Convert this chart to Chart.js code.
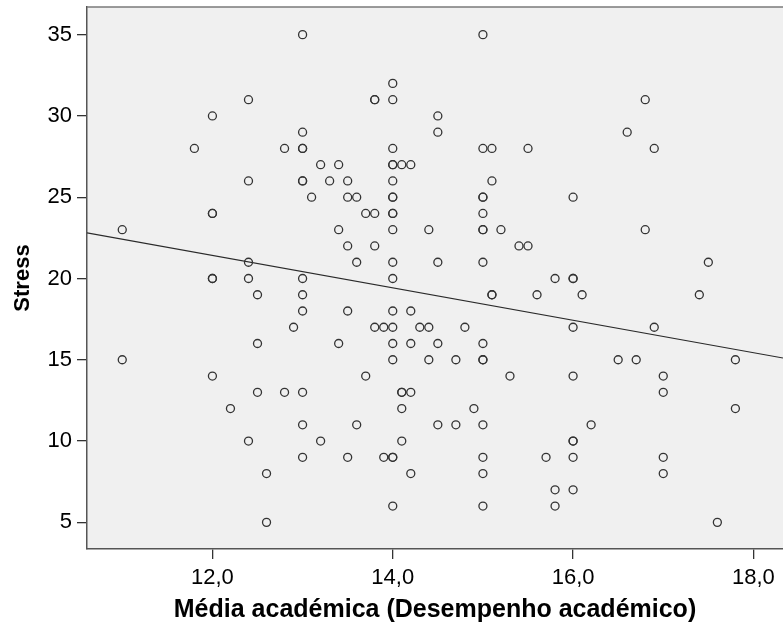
<!DOCTYPE html>
<html>
<head>
<meta charset="utf-8">
<script src="https://cdn.jsdelivr.net/npm/chart.js@4/dist/chart.umd.min.js"></script>
<style>
  html, body { margin: 0; padding: 0; background: #ffffff; overflow: hidden; }
  #wrap { width: 783px; height: 630px; }
</style>
</head>
<body>
<div id="wrap"><canvas id="c" width="783" height="630"></canvas></div>
<script>
// ---- Data ----
const mediaAcademica = [
  13.0, 15.0, 14.0, 12.4, 13.8, 13.8, 14.0, 16.8,
  12.0, 14.5, 13.0, 14.5, 16.6,
  11.8, 12.8, 13.0, 13.0, 14.0, 15.0, 15.1, 15.5, 16.9,
  13.2, 13.4, 14.0, 14.0, 14.1, 14.2,
  12.4, 13.0, 13.0, 13.3, 13.5, 14.0, 15.1,
  13.1, 13.5, 13.6, 14.0, 14.0, 15.0, 15.0, 16.0,
  12.0, 12.0, 13.7, 13.8, 14.0, 14.0, 15.0,
  11.0, 13.4, 14.0, 14.4, 15.0, 15.0, 15.2, 16.8,
  13.5, 13.8, 15.4, 15.5,
  12.4, 13.6, 14.0, 14.5, 15.0, 17.5,
  12.0, 12.0, 12.4, 13.0, 14.0, 15.8, 16.0, 16.0,
  12.5, 13.0, 15.1, 15.1, 15.6, 16.1, 17.4,
  13.0, 13.5, 14.0, 14.2,
  12.9, 13.8, 13.9, 14.0, 14.3, 14.4, 14.8, 16.0, 16.9,
  12.5, 13.4, 14.0, 14.2, 14.5, 15.0,
  11.0, 14.0, 14.4, 14.7, 15.0, 15.0, 16.5, 16.7, 17.8,
  12.0, 13.7, 15.3, 16.0, 17.0,
  12.5, 12.8, 13.0, 14.1, 14.1, 14.2, 17.0,
  12.2, 14.1, 14.9, 17.8,
  13.0, 13.6, 14.5, 14.7, 15.0, 16.2,
  12.4, 13.2, 14.1, 16.0, 16.0,
  13.0, 13.5, 13.9, 14.0, 14.0, 15.0, 15.7, 16.0, 17.0,
  12.6, 14.2, 15.0, 17.0,
  15.8, 16.0,
  14.0, 15.0, 15.8,
  12.6, 17.6
];
const stress = [
  35, 35, 32, 31, 31, 31, 31, 31,
  30, 30, 29, 29, 29,
  28, 28, 28, 28, 28, 28, 28, 28, 28,
  27, 27, 27, 27, 27, 27,
  26, 26, 26, 26, 26, 26, 26,
  25, 25, 25, 25, 25, 25, 25, 25,
  24, 24, 24, 24, 24, 24, 24,
  23, 23, 23, 23, 23, 23, 23, 23,
  22, 22, 22, 22,
  21, 21, 21, 21, 21, 21,
  20, 20, 20, 20, 20, 20, 20, 20,
  19, 19, 19, 19, 19, 19, 19,
  18, 18, 18, 18,
  17, 17, 17, 17, 17, 17, 17, 17, 17,
  16, 16, 16, 16, 16, 16,
  15, 15, 15, 15, 15, 15, 15, 15, 15,
  14, 14, 14, 14, 14,
  13, 13, 13, 13, 13, 13, 13,
  12, 12, 12, 12,
  11, 11, 11, 11, 11, 11,
  10, 10, 10, 10, 10,
  9, 9, 9, 9, 9, 9, 9, 9, 9,
  8, 8, 8, 8,
  7, 7,
  6, 6, 6,
  5, 5
];
// Fit line: Stress = intercept + slope * média
const fitIntercept = 33.38;
const fitSlope = -0.997;
// Axis ticks
const xTickValues = [12, 14, 16, 18];
const yTickValues = [5, 10, 15, 20, 25, 30, 35];
const xRange = [10.609, 18.328];
const yRange = [3.36, 36.70];
const xTitle = 'Média académica (Desempenho académico)';
const yTitle = 'Stress';

// ---- Build chart ----
const points = mediaAcademica.map((x, i) => ({ x: x, y: stress[i] }));
const fitLine = xRange.map(x => ({ x: x, y: fitIntercept + fitSlope * x }));

const FONT = "'Liberation Sans', Arial, Helvetica, sans-serif";

const plotBg = {
  id: 'plotBg',
  beforeDraw(chart) {
    const { ctx, chartArea: a } = chart;
    ctx.save();
    ctx.fillStyle = '#f0f0f0';
    ctx.fillRect(a.left, a.top, a.right - a.left, a.bottom - a.top);
    ctx.restore();
  },
  afterDraw(chart) {
    const { ctx, chartArea: a } = chart;
    ctx.save();
    ctx.strokeStyle = '#7a7a7a';
    ctx.lineWidth = 1.5;
    ctx.beginPath();
    ctx.moveTo(a.left, a.top);
    ctx.lineTo(a.right, a.top);
    ctx.stroke();
    ctx.restore();
  }
};

new Chart(document.getElementById('c'), {
  type: 'scatter',
  data: {
    datasets: [
      {
        label: 'Stress',
        data: points,
        pointStyle: 'circle',
        pointRadius: 4,
        pointBorderWidth: 1.3,
        pointBorderColor: '#333333',
        pointBackgroundColor: 'rgba(0,0,0,0)',
        showLine: false,
        order: 1
      },
      {
        type: 'line',
        label: 'Fit',
        data: fitLine,
        borderColor: '#2a2a2a',
        borderWidth: 1.2,
        pointRadius: 0,
        fill: false,
        order: 2
      }
    ]
  },
  plugins: [plotBg],
  options: {
    responsive: false,
    animation: false,
    events: [],
    layout: { autoPadding: false, padding: { top: 7, right: 0, left: 0, bottom: 0 } },
    plugins: { legend: { display: false }, tooltip: { enabled: false } },
    scales: {
      x: {
        type: 'linear',
        min: xRange[0],
        max: xRange[1],
        afterBuildTicks: s => { s.ticks = xTickValues.map(v => ({ value: v })); },
        afterFit: s => { s.height = 81; s.paddingLeft = 0; s.paddingRight = 0; },
        ticks: {
          callback: v => v.toFixed(1).replace('.', ','),
          font: { family: FONT, size: 22 },
          color: '#000000',
          padding: 6,
          maxRotation: 0,
          autoSkip: false
        },
        grid: { drawOnChartArea: false, drawTicks: true, tickLength: 10, color: '#333333', lineWidth: 1.3 },
        border: { display: true, color: '#555555', width: 1.5 },
        title: {
          display: true,
          text: xTitle,
          font: { family: FONT, size: 25, weight: 'bold' },
          color: '#000000',
          padding: { top: 0, bottom: 5 }
        }
      },
      y: {
        type: 'linear',
        min: yRange[0],
        max: yRange[1],
        afterBuildTicks: s => { s.ticks = yTickValues.map(v => ({ value: v })); },
        afterFit: s => { s.width = 87; s.paddingTop = 0; s.paddingBottom = 0; },
        ticks: {
          callback: v => String(v),
          font: { family: FONT, size: 22 },
          color: '#000000',
          padding: 5,
          autoSkip: false
        },
        grid: { drawOnChartArea: false, drawTicks: true, tickLength: 10, color: '#333333', lineWidth: 1.3 },
        border: { display: true, color: '#555555', width: 1.5 },
        title: {
          display: true,
          text: yTitle,
          font: { family: FONT, size: 22, weight: 'bold' },
          color: '#000000',
          padding: { top: 10, bottom: 0 }
        }
      }
    }
  }
});
</script>
</body>
</html>
